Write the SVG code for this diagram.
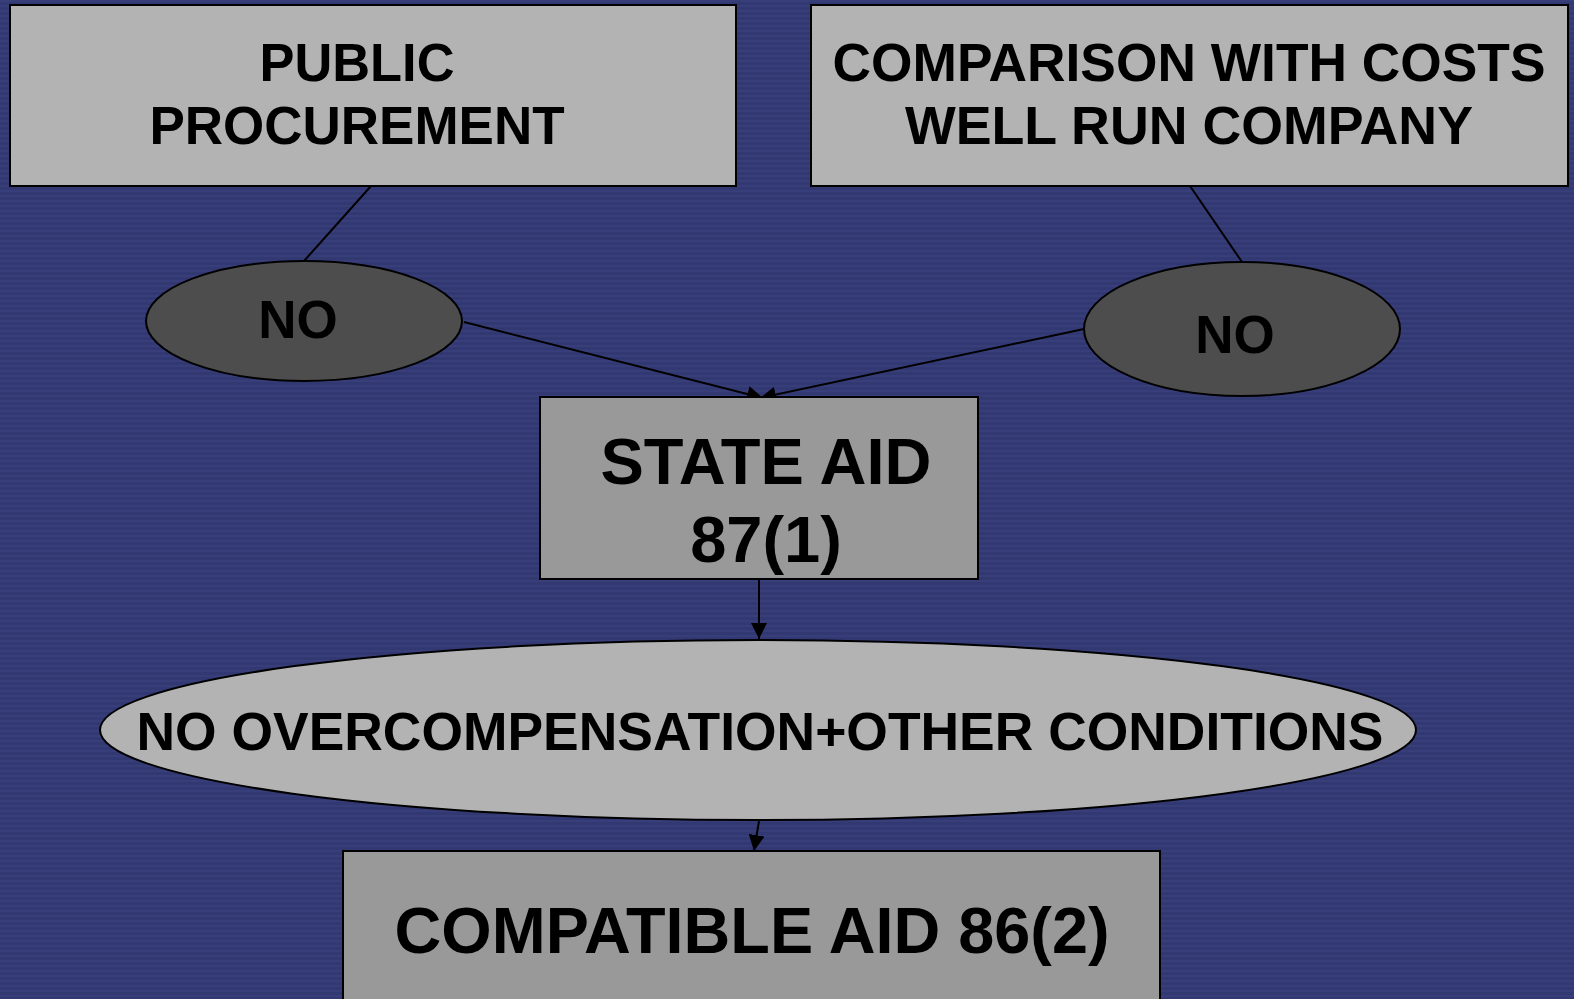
<svg xmlns="http://www.w3.org/2000/svg" width="1574" height="999" viewBox="0 0 1574 999">
<defs>
<pattern id="bg" width="8" height="5" patternUnits="userSpaceOnUse">
<rect width="8" height="5" fill="#323872"/>
<rect y="0" width="8" height="2" fill="#383e7a"/>
</pattern>
<marker id="ahb" viewBox="0 0 10 10" refX="10" refY="5" markerWidth="16" markerHeight="16" markerUnits="userSpaceOnUse" orient="auto">
<path d="M0,0 L10,5 L0,10 z" fill="#000"/>
</marker>
</defs>
<style>
text{font-family:"Liberation Sans",Arial,sans-serif;font-weight:bold;fill:#000;text-anchor:middle}
.box{stroke:#000;stroke-width:2}
.lt{fill:#b3b3b3}
.md{fill:#999999}
.dk{fill:#4d4d4d}
.c{stroke:#000;stroke-width:2;fill:none}
</style>
<rect width="1574" height="999" fill="url(#bg)"/>
<g id="connectors">
<line class="c" x1="371" y1="186" x2="304" y2="261"/>
<line class="c" x1="1190" y1="186" x2="1242" y2="262"/>
<line class="c" x1="464" y1="322" x2="763" y2="398" marker-end="url(#ahb)"/>
<line class="c" x1="1084" y1="329" x2="760" y2="398" marker-end="url(#ahb)"/>
<line class="c" x1="759" y1="579" x2="759" y2="639" marker-end="url(#ahb)"/>
<line class="c" x1="759" y1="821" x2="754" y2="851" marker-end="url(#ahb)"/>
</g>
<g id="public-procurement">
<rect class="box lt" x="10" y="5" width="726" height="181"/>
<text x="357" y="81" font-size="53" textLength="195" lengthAdjust="spacingAndGlyphs">PUBLIC</text>
<text x="357" y="144" font-size="53">PROCUREMENT</text>
</g>
<g id="comparison">
<rect class="box lt" x="811" y="5" width="757" height="181"/>
<text x="1189" y="81" font-size="53" textLength="713" lengthAdjust="spacingAndGlyphs">COMPARISON WITH COSTS</text>
<text x="1189" y="144" font-size="53" textLength="568" lengthAdjust="spacingAndGlyphs">WELL RUN COMPANY</text>
</g>
<g id="no-left">
<ellipse class="box dk" cx="304" cy="321" rx="158" ry="60"/>
<text x="298" y="338" font-size="53">NO</text>
</g>
<g id="no-right">
<ellipse class="box dk" cx="1242" cy="329" rx="158" ry="67"/>
<text x="1235" y="353" font-size="53">NO</text>
</g>
<g id="state-aid">
<rect class="box md" x="540" y="397" width="438" height="182"/>
<text x="766" y="484" font-size="65">STATE AID</text>
<text x="766" y="562" font-size="65">87(1)</text>
</g>
<g id="no-overcompensation">
<ellipse class="box lt" cx="758" cy="730" rx="658" ry="90"/>
<text x="760" y="750" font-size="53" textLength="1247" lengthAdjust="spacingAndGlyphs">NO OVERCOMPENSATION+OTHER CONDITIONS</text>
</g>
<g id="compatible-aid">
<rect class="box md" x="343" y="851" width="817" height="160"/>
<text x="752" y="953" font-size="64" textLength="715" lengthAdjust="spacingAndGlyphs">COMPATIBLE AID 86(2)</text>
</g>
</svg>
